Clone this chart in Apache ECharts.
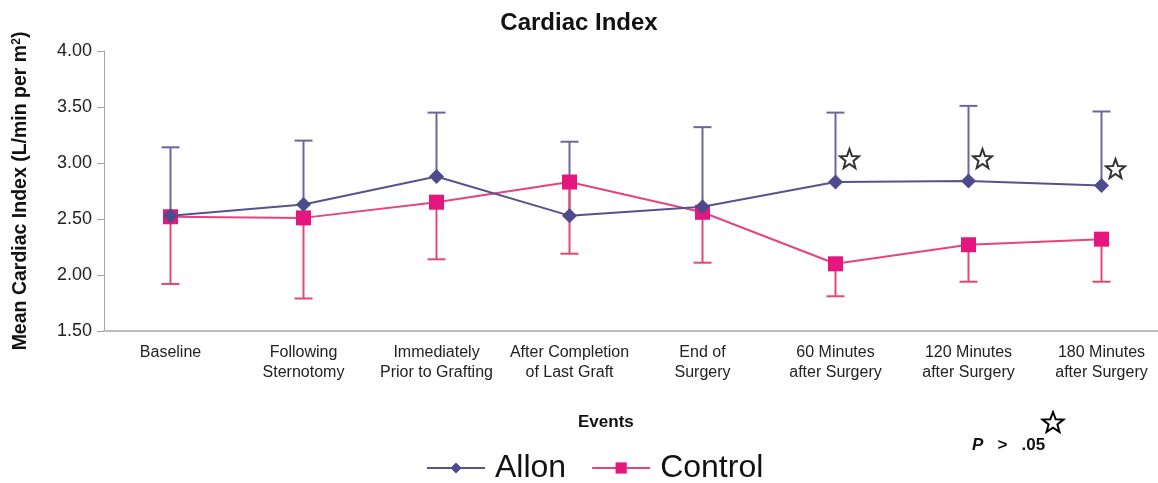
<!DOCTYPE html>
<html lang="en">
<head>
    <meta charset="UTF-8">
    <title>Cardiac Index</title>
</head>
<style type="text/css">
    body{
        margin:0;
        background:#fff;
    }
    .cardiac-chart{
        width: 1158px;
        height: 483px;
    }
</style>
<body>
    <div class="cardiac-chart"></div>
</body>
<script type="text/javascript" src="https://cdn.jsdelivr.net/npm/echarts@6/dist/echarts.min.js"></script>
<script type="text/javascript">
var events = ['Baseline', 'Following\nSternotomy', 'Immediately\nPrior to Grafting', 'After Completion\nof Last Graft',
    'End of\nSurgery', '60 Minutes\nafter Surgery', '120 Minutes\nafter Surgery', '180 Minutes\nafter Surgery'];
var allonMean = [2.53, 2.63, 2.88, 2.53, 2.61, 2.83, 2.84, 2.80];
var allonUpper = [3.14, 3.20, 3.45, 3.19, 3.32, 3.45, 3.51, 3.46];
var controlMean = [2.52, 2.51, 2.65, 2.83, 2.56, 2.10, 2.27, 2.32];
var controlLower = [1.92, 1.79, 2.14, 2.19, 2.11, 1.81, 1.94, 1.94];
var starIndex = [5, 6, 7];
var starValue = [3.04, 3.04, 2.95];

var FONT = 'Liberation Sans, Arial, sans-serif';
var ALLON = '#4f4a8c';
var CONTROL = '#e5177f';

// outline star, 100x100 box
var starPts = [[50,0],[62.3,33],[97.6,34.5],[70,56.5],[79.4,90.5],[50,71],[20.6,90.5],[30,56.5],[2.4,34.5],[37.7,33]];
var starPath = 'path://M' + starPts.map(function(p){ return p[0] + ' ' + p[1]; }).join(' L') + ' Z';

function errorBar(color) {
    return function(params, api) {
        var p0 = api.coord([api.value(0), api.value(1)]);
        var p1 = api.coord([api.value(0), api.value(2)]);
        var style = { stroke: color, lineWidth: 2 };
        return {
            type: 'group',
            children: [
                { type: 'line', shape: { x1: p0[0], y1: p0[1], x2: p1[0], y2: p1[1] }, style: style },
                { type: 'line', shape: { x1: p1[0] - 9, y1: p1[1], x2: p1[0] + 9, y2: p1[1] }, style: style }
            ]
        };
    };
}

function toScale(pts, s, ox, oy) {
    return pts.map(function(p){ return [ox + p[0] * s, oy + p[1] * s]; });
}

option = {
    animation: false,
    textStyle: { fontFamily: FONT },
    title: {
        text: 'Cardiac Index',
        left: 'center',
        top: 6,
        textStyle: { fontSize: 24, fontWeight: 'bold', color: '#111', fontFamily: FONT }
    },
    legend: {
        data: ['Allon', 'Control'],
        left: 421,
        top: 447,
        itemWidth: 58,
        itemHeight: 14,
        itemGap: 25,
        textStyle: { fontSize: 32, color: '#111', fontFamily: FONT, padding: [0, 0, 0, 5] }
    },
    grid: { left: 104, width: 1064, top: 51, bottom: 152, outerBoundsMode: 'none', containLabel: false },
    xAxis: {
        type: 'category',
        data: events,
        axisLine: { lineStyle: { color: '#bcbcbc', width: 2 } },
        axisTick: { show: false },
        axisLabel: { interval: 0, fontSize: 16, lineHeight: 20, color: '#222', margin: 12, fontFamily: FONT }
    },
    yAxis: {
        type: 'value',
        min: 1.5,
        max: 4,
        interval: 0.5,
        name: '{a|Mean Cardiac Index (L/min per m}{s|2}{a|)}',
        nameLocation: 'middle',
        nameGap: 73,
        nameTextStyle: {
            rich: {
                a: { fontSize: 19.5, fontWeight: 'bold', color: '#111', fontFamily: FONT },
                s: { fontSize: 12, fontWeight: 'bold', color: '#111', fontFamily: FONT, verticalAlign: 'top', padding: [0, 0, 8, 0] }
            }
        },
        splitLine: { show: false },
        axisLine: { show: true, lineStyle: { color: '#aaa2a2', width: 1 } },
        axisTick: { show: true, length: 7, lineStyle: { color: '#aaa2a2' } },
        axisLabel: {
            fontSize: 18, color: '#222', margin: 12, fontFamily: FONT,
            formatter: function(v){ return v.toFixed(2); }
        }
    },
    graphic: [
        { type: 'text', left: 578, top: 414, style: { text: 'Events', fontSize: 17, fontWeight: 'bold', fill: '#111', fontFamily: FONT } },
        { type: 'text', left: 972, top: 437, style: { text: 'P   >   .05', fontSize: 17, fontWeight: 'bold', fill: '#111', fontFamily: FONT } },
        { type: 'text', left: 972, top: 437, style: { text: 'P', fontSize: 17, fontWeight: 'bold', fontStyle: 'italic', fill: '#111', fontFamily: FONT, backgroundColor: '#fff' } },
        { type: 'polygon', shape: { points: toScale(starPts, 0.22, 1042, 412) }, style: { fill: '#fff', stroke: '#000', lineWidth: 2 } }
    ],
    series: [
        {
            type: 'custom',
            name: 'AllonErr',
            renderItem: errorBar('#6c6699'),
            data: allonMean.map(function(v, i){ return [i, v, allonUpper[i]]; }),
            z: 1
        },
        {
            type: 'custom',
            name: 'ControlErr',
            renderItem: errorBar('#e04a70'),
            data: controlMean.map(function(v, i){ return [i, v, controlLower[i]]; }),
            z: 1
        },
        {
            type: 'line',
            name: 'Allon',
            data: allonMean,
            symbol: 'diamond',
            symbolSize: 15,
            itemStyle: { color: ALLON },
            lineStyle: { color: '#57528f', width: 2 },
            z: 3
        },
        {
            type: 'line',
            name: 'Control',
            data: controlMean,
            symbol: 'rect',
            symbolSize: 15,
            itemStyle: { color: CONTROL },
            lineStyle: { color: '#e5447f', width: 2 },
            z: 2
        },
        {
            type: 'scatter',
            name: 'star',
            data: starIndex.map(function(i, k){ return [i, starValue[k]]; }),
            symbol: starPath,
            symbolSize: 19,
            symbolOffset: [14, 0],
            itemStyle: { color: '#fff', borderColor: '#000', borderWidth: 2 },
            z: 4
        }
    ]
};
var myChart = echarts.init(document.querySelector(".cardiac-chart"));
myChart.setOption(option);
</script>
</html>
